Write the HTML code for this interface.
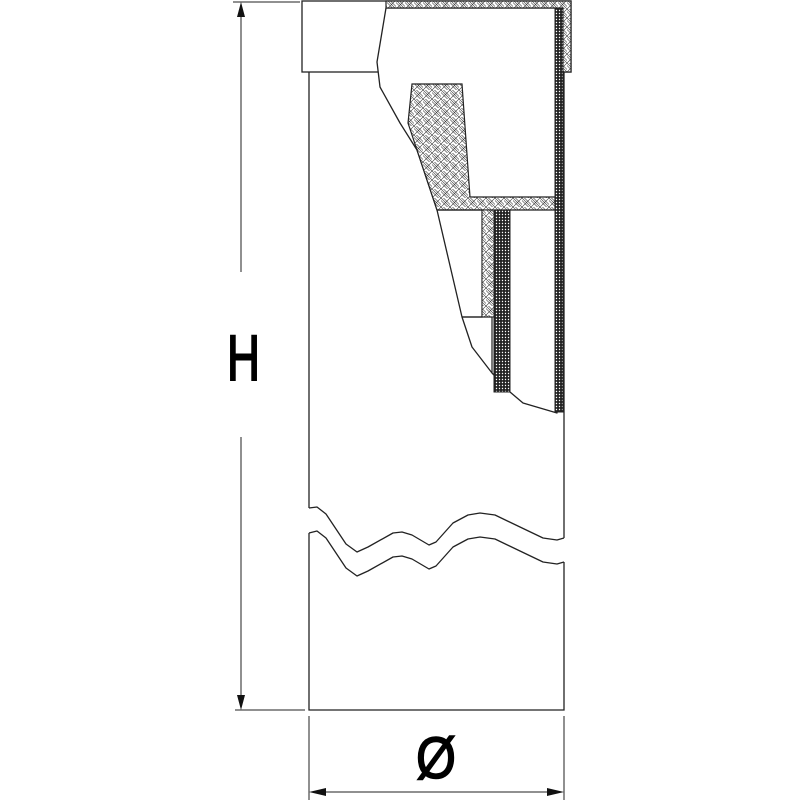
<!DOCTYPE html>
<html><head><meta charset="utf-8"><style>html,body{margin:0;padding:0;background:#fff}svg{display:block}</style></head>
<body>
<svg width="800" height="800" viewBox="0 0 800 800" xmlns="http://www.w3.org/2000/svg">
<defs>
<pattern id="hx" width="9" height="9" patternUnits="userSpaceOnUse">
<rect width="9" height="9" fill="#fff"/>
<path d="M0,0L9,9M9,0L0,9M-1,1.5L7.5,10M1.5,-1L10,7.5" stroke="#333" stroke-width="0.6"/>
</pattern>
<pattern id="dk" width="3" height="3" patternUnits="userSpaceOnUse">
<rect width="3" height="3" fill="#222"/>
<circle cx="1.5" cy="1.5" r="0.7" fill="#fff"/>
</pattern>
</defs>
<g fill="none" stroke="#222" stroke-width="1.3">
<rect x="302" y="1" width="269" height="71" fill="#fff"/>
<path d="M309,72V508M309,533V710H564V562M564,538V72"/>
</g>
<path d="M386,8L377,62L380,87L400,123L417,150L437,210L462,317L472,347L492,373L510,392L523,403L557,413L557,8Z" fill="#fff" stroke="#222" stroke-width="1.3" stroke-linejoin="round"/>
<path d="M386,1H571V72H562V8H386Z" fill="url(#hx)" stroke="#222" stroke-width="1.2"/>
<rect x="555" y="8" width="8" height="404" fill="url(#dk)" stroke="#222" stroke-width="1"/>
<path d="M412,84H462L470,197H555V210H437L417,150L408,123Z" fill="url(#hx)" stroke="#222" stroke-width="1.2"/>
<path d="M437,210H482V317H462" fill="none" stroke="#222" stroke-width="1.2"/>
<rect x="482" y="210" width="12" height="107" fill="url(#hx)" stroke="#222" stroke-width="1"/>
<path d="M462,317H492V373" fill="none" stroke="#222" stroke-width="1.2"/>
<rect x="494" y="210" width="16" height="182" fill="url(#dk)" stroke="#222" stroke-width="1"/>
<g fill="none" stroke="#222" stroke-width="1.3" stroke-linejoin="round">
<path d="M309,508L317,507L326,514L346,544L357,552L368,547L393,533L402,532L412,535L429,545L436,542L453,523L468,515L480,513L495,515L520,527L543,538L557,540L564,538"/>
<path d="M309,533L317,531L326,538L346,568L357,576L368,571L393,557L402,556L412,559L429,569L436,566L453,547L468,539L480,537L495,539L520,551L543,562L557,564L564,562"/>
</g>
<g stroke="#222" stroke-width="1" fill="none">
<path d="M233,2H300M235,710H305M241,14V272M241,437V698"/>
<path d="M309,716V800M564,716V800M321,792H552"/>
</g>
<g fill="#111">
<path d="M241,2L237,17H245Z"/>
<path d="M241,710L237,695H245Z"/>
<path d="M309,792L326,788V796Z"/>
<path d="M564,792L547,788V796Z"/>
</g>
<text x="227" y="380" font-family="Liberation Sans, sans-serif" font-size="64" textLength="33" lengthAdjust="spacingAndGlyphs" fill="#000" stroke="#000" stroke-width="2">H</text>
<text x="416" y="778" font-family="Liberation Sans, sans-serif" font-size="58" textLength="40" lengthAdjust="spacingAndGlyphs" fill="#000" stroke="#000" stroke-width="1.5">Ø</text>
</svg>
</body></html>
